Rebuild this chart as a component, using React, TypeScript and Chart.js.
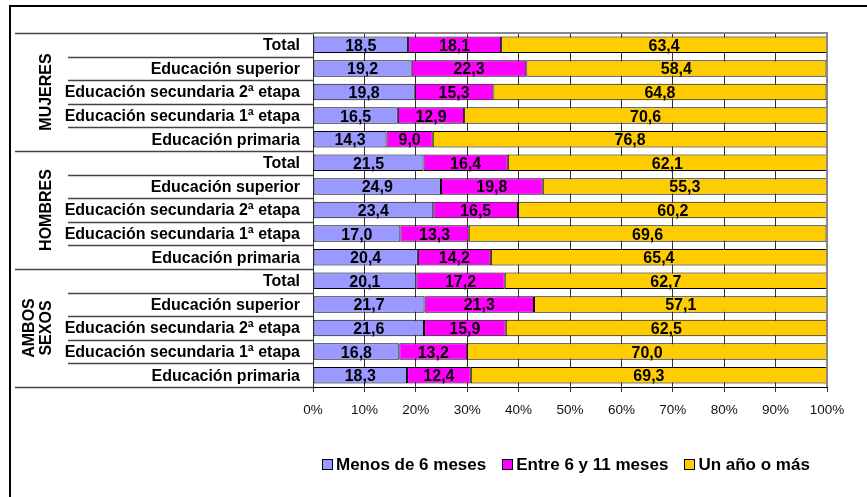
import React, { useEffect, useRef } from "react";
import { Chart, registerables } from "chart.js";

Chart.register(...registerables);

const groups = ["MUJERES", "HOMBRES", "AMBOS\nSEXOS"];
const categories = [
  "Total",
  "Educación superior",
  "Educación secundaria 2ª etapa",
  "Educación secundaria 1ª etapa",
  "Educación primaria",
  "Total",
  "Educación superior",
  "Educación secundaria 2ª etapa",
  "Educación secundaria 1ª etapa",
  "Educación primaria",
  "Total",
  "Educación superior",
  "Educación secundaria 2ª etapa",
  "Educación secundaria 1ª etapa",
  "Educación primaria",
];
const menos6 = [18.5, 19.2, 19.8, 16.5, 14.3, 21.5, 24.9, 23.4, 17.0, 20.4, 20.1, 21.7, 21.6, 16.8, 18.3];
const entre6y11 = [18.1, 22.3, 15.3, 12.9, 9.0, 16.4, 19.8, 16.5, 13.3, 14.2, 17.2, 21.3, 15.9, 13.2, 12.4];
const unAnio = [63.4, 58.4, 64.8, 70.6, 76.8, 62.1, 55.3, 60.2, 69.6, 65.4, 62.7, 57.1, 62.5, 70.0, 69.3];
const seriesNames = ["Menos de 6 meses", "Entre 6 y 11 meses", "Un año o más"];
const seriesColors = ["#9999FF", "#FF00FF", "#FFCC00"];

const FONT = '"Liberation Sans", Arial, Helvetica, sans-serif';

const overlay = {
  id: "overlay",
  beforeDraw(chart: any) {
    const ctx = chart.ctx;
    ctx.save();
    ctx.fillStyle = "#fff";
    ctx.fillRect(0, 0, chart.width, chart.height);
    ctx.restore();
  },
  afterDraw(chart: any) {
    const ctx = chart.ctx;
    const ca = chart.chartArea;
    const n = categories.length;
    const rowH = (ca.bottom - ca.top) / n;
    const perGroup = n / groups.length;
    ctx.save();

    // plot area frame (top & right, grey)
    ctx.strokeStyle = "#888";
    ctx.lineWidth = 2;
    ctx.beginPath();
    ctx.moveTo(ca.left, ca.top);
    ctx.lineTo(ca.right, ca.top);
    ctx.lineTo(ca.right, ca.bottom);
    ctx.stroke();

    // separators
    ctx.strokeStyle = "#444";
    ctx.lineWidth = 1.5;
    for (let k = 0; k <= n; k++) {
      const yy = Math.round(ca.top + k * rowH) + 0.5;
      const x0 = k % perGroup === 0 ? 15 : 68;
      ctx.beginPath();
      ctx.moveTo(x0, yy);
      ctx.lineTo(ca.left, yy);
      ctx.stroke();
    }

    // category labels
    const yScale = chart.scales.y;
    ctx.fillStyle = "#000";
    ctx.font = `bold 16px ${FONT}`;
    ctx.textAlign = "right";
    ctx.textBaseline = "middle";
    categories.forEach((c, i) => {
      ctx.fillText(c, 300, yScale.getPixelForValue(i) + 1);
    });

    // group labels
    groups.forEach((g, gi) => {
      const yc = ca.top + (gi * perGroup + perGroup / 2) * rowH;
      const lines = g.split("\n");
      const xs = lines.length === 1 ? [46] : [29, 46];
      lines.forEach((ln, li) => {
        ctx.save();
        ctx.translate(xs[li], yc);
        ctx.rotate(-Math.PI / 2);
        ctx.textAlign = "center";
        ctx.textBaseline = "middle";
        ctx.fillText(ln, 0, 1);
        ctx.restore();
      });
    });

    // data labels
    ctx.font = `bold 16px ${FONT}`;
    ctx.textAlign = "center";
    ctx.textBaseline = "middle";
    chart.data.datasets.forEach((ds: any, di: number) => {
      const meta = chart.getDatasetMeta(di);
      meta.data.forEach((bar: any, j: number) => {
        const p = bar.getProps(["x", "y", "base"], true);
        const v = ds.data[j];
        const txt = v.toFixed(1).replace(".", ",");
        ctx.fillText(txt, (p.x + p.base) / 2, p.y + 1.5);
      });
    });

    // legend
    ctx.font = `bold 17px ${FONT}`;
    const box = 10;
    const gap = 4;
    const spacing = 16;
    const widths = seriesNames.map((s) => ctx.measureText(s).width);
    const total = widths.reduce((a, w) => a + box + gap + w, 0) + spacing * (seriesNames.length - 1);
    let lx = Math.round(566 - total / 2);
    const ly = 464;
    ctx.textAlign = "left";
    ctx.textBaseline = "middle";
    seriesNames.forEach((s, i) => {
      const bx = Math.round(lx);
      ctx.fillStyle = seriesColors[i];
      ctx.fillRect(bx, ly - box / 2, box, box);
      ctx.strokeStyle = "#000";
      ctx.lineWidth = 1;
      ctx.strokeRect(bx + 0.5, ly - box / 2 + 0.5, box, box);
      ctx.fillStyle = "#000";
      ctx.fillText(s, lx + box + gap, ly + 1);
      lx += box + gap + widths[i] + spacing;
    });

    // outer frame
    ctx.strokeStyle = "#000";
    ctx.lineWidth = 2;
    ctx.strokeRect(10, 6, 1000, 1000);

    ctx.restore();
  },
};

export default function App() {
  const ref = useRef<HTMLCanvasElement>(null);
  useEffect(() => {
    if (!ref.current) return;
    const chart = new Chart(ref.current, {
      type: "bar",
      data: {
        labels: categories,
        datasets: seriesNames.map((name, i) => ({
          label: name,
          data: [menos6, entre6y11, unAnio][i],
          backgroundColor: seriesColors[i],
          borderColor: "#000",
          borderWidth: 1,
          borderSkipped: false,
          barPercentage: 0.7,
          categoryPercentage: 1,
        })),
      },
      options: {
        indexAxis: "y",
        responsive: false,
        animation: false,
        events: [],
        layout: { padding: { left: 313, right: 40, top: 33, bottom: 80 } },
        plugins: { legend: { display: false }, tooltip: { enabled: false } },
        scales: {
          x: {
            stacked: true,
            min: 0,
            max: 100,
            ticks: {
              stepSize: 10,
              autoSkip: false,
              maxRotation: 0,
              padding: 10,
              color: "#111",
              font: { family: FONT, size: 13.5 },
              callback: (v: any) => v + "%",
            },
            grid: { color: "#333", lineWidth: 1, tickLength: 5 },
            border: { display: true, color: "#000", width: 1 },
            afterFit: (s: any) => {
              s.height = 30;
            },
          },
          y: { stacked: true, display: false, offset: true },
        },
      },
      plugins: [overlay],
    } as any);
    return () => chart.destroy();
  }, []);
  return (
    <div style={{ position: "fixed", left: 0, top: 0, width: 867, height: 497, background: "#fff" }}>
      <canvas ref={ref} width={867} height={497} style={{ display: "block" }} />
    </div>
  );
}
